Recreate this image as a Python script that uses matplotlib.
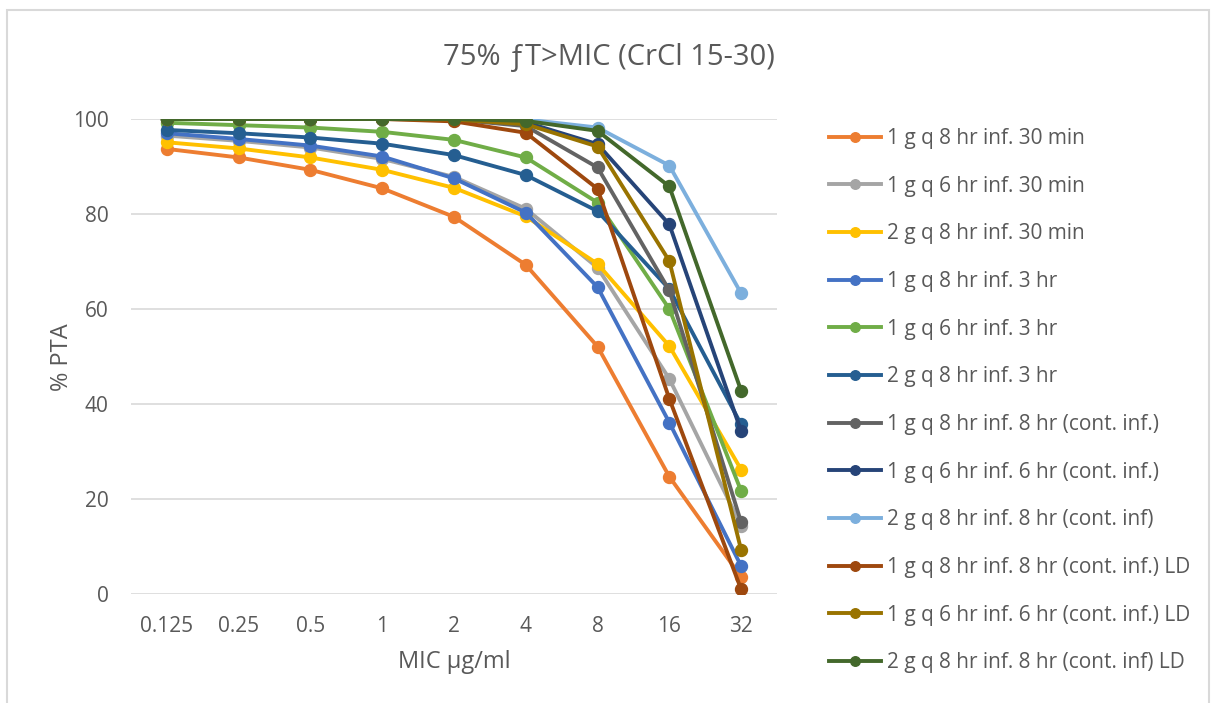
import matplotlib
matplotlib.use("Agg")
import matplotlib.pyplot as plt
from matplotlib.patches import Rectangle

plt.rcParams['font.family'] = ['Open Sans', 'DejaVu Sans']

mic = ['0.125', '0.25', '0.5', '1', '2', '4', '8', '16', '32']

labels = [
    '1 g q 8 hr inf. 30 min',
    '1 g q 6 hr inf. 30 min',
    '2 g q 8 hr inf. 30 min',
    '1 g q 8 hr inf. 3 hr',
    '1 g q 6 hr inf. 3 hr',
    '2 g q 8 hr inf. 3 hr',
    '1 g q 8 hr inf. 8 hr (cont. inf.)',
    '1 g q 6 hr inf. 6 hr (cont. inf.)',
    '2 g q 8 hr inf. 8 hr (cont. inf)',
    '1 g q 8 hr inf. 8 hr (cont. inf.) LD',
    '1 g q 6 hr inf. 6 hr (cont. inf.) LD',
    '2 g q 8 hr inf. 8 hr (cont. inf) LD',
]

q8_30min = [93.7, 91.9, 89.3, 85.4, 79.4, 69.3, 52.1, 24.7, 3.6]
q6_30min = [96.5, 95.4, 94.0, 91.6, 87.8, 81.1, 68.7, 45.3, 14.4]
g2_q8_30min = [95.1, 93.8, 91.9, 89.3, 85.5, 79.5, 69.5, 52.2, 26.2]
q8_3hr = [97.0, 95.8, 94.4, 92.1, 87.5, 80.3, 64.6, 36.1, 5.9]
q6_3hr = [99.2, 98.7, 98.2, 97.3, 95.6, 91.9, 82.4, 60.0, 21.7]
g2_q8_3hr = [97.7, 97.0, 96.1, 94.8, 92.4, 88.2, 80.6, 64.2, 35.7]
q8_cont = [100, 100, 100, 100, 99.9, 98.5, 89.8, 63.9, 15.1]
q6_cont = [100, 100, 100, 100, 100, 99.3, 94.7, 77.8, 34.3]
g2_q8_cont = [100, 100, 100, 100, 100, 99.9, 98.2, 90.2, 63.3]
q8_cont_ld = [100, 100, 100, 100, 99.5, 97.1, 85.3, 41.1, 1.0]
q6_cont_ld = [100, 100, 100, 100, 99.9, 98.9, 94.2, 70.1, 9.3]
g2_q8_cont_ld = [100, 100, 100, 100, 100, 99.6, 97.5, 85.8, 42.8]

series = [q8_30min, q6_30min, g2_q8_30min, q8_3hr, q6_3hr, g2_q8_3hr,
          q8_cont, q6_cont, g2_q8_cont, q8_cont_ld, q6_cont_ld, g2_q8_cont_ld]
colors = ['#ED7D31', '#A5A5A5', '#FFC000', '#4472C4', '#70AD47', '#255E91',
          '#636363', '#264478', '#7CAFDD', '#9E480E', '#997300', '#43682B']

txt = '#595959'

fig = plt.figure(figsize=(12.14, 7.03), dpi=100)
# chart border
fig.patches.append(Rectangle((7 / 1214, -0.01), 1202 / 1214, 1 - 10 / 703 + 0.01,
                             transform=fig.transFigure, fill=False,
                             edgecolor='#D9D9D9', linewidth=1.5))

ax = fig.add_axes([131 / 1214, 109 / 703, 646 / 1214, 475 / 703])
x = range(len(mic))
for vals, lab, c in zip(series, labels, colors):
    ax.plot(x, vals, color=c, lw=2.8, marker='o', markersize=8.6, label=lab)

ax.set_xlim(-0.5, len(mic) - 0.5)
ax.set_ylim(0, 100)
ax.set_yticks([0, 20, 40, 60, 80, 100])
ax.set_xticks(list(x))
ax.set_xticklabels(mic)
ax.grid(axis='y', color='#D9D9D9', lw=1.2)
ax.set_axisbelow(True)
for s in ax.spines.values():
    s.set_visible(False)
ax.tick_params(length=0, labelsize=15, colors=txt)
ax.tick_params(axis='x', pad=16)
ax.tick_params(axis='y', pad=16)

fig.text(454 / 1214, 1 - 662 / 703, 'MIC µg/ml', ha='center', va='center',
         fontsize=17, color=txt)
fig.text(62 / 1214, 1 - 357 / 703, '% PTA', ha='center', va='center',
         rotation=90, fontsize=17, color=txt)
fig.text(609 / 1214, 1 - 58 / 703, '75% ƒT>MIC (CrCl 15-30)', ha='center',
         va='center', fontsize=21, color=txt)

leg = fig.legend(loc='upper left', bbox_to_anchor=(829 / 1214, 1 - 128 / 703),
                 frameon=False, fontsize=15, handlelength=2.5, handletextpad=0.3,
                 labelspacing=1.28, borderaxespad=0, borderpad=0, markerscale=0.8)
for t in leg.get_texts():
    t.set_color(txt)

fig.savefig('out.png', dpi=100)
